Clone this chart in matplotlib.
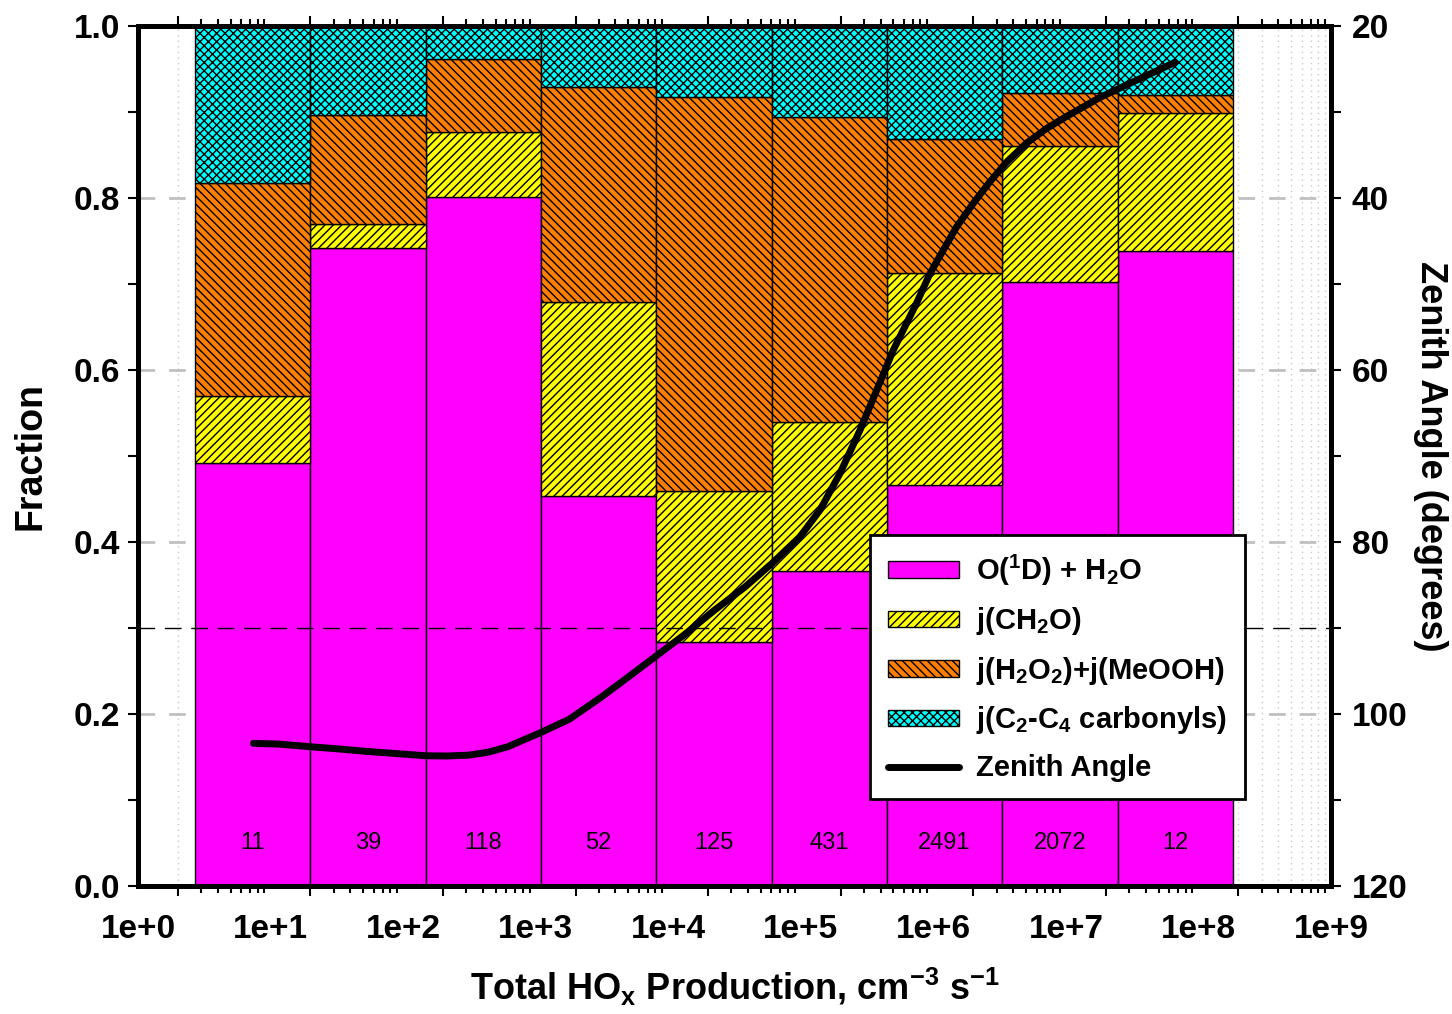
import numpy as np
import matplotlib
matplotlib.use("Agg")
import matplotlib.pyplot as plt
from matplotlib.ticker import FixedLocator, NullFormatter, FixedFormatter, MultipleLocator
from matplotlib.lines import Line2D
from matplotlib.patches import Patch

plt.rcParams['font.family'] = ['Liberation Sans', 'DejaVu Sans']
plt.rcParams['mathtext.default'] = 'regular'
plt.rcParams['hatch.linewidth'] = 1.0

# bin edges in log10(total HOx production)
bin_edges_log = [0.43, 1.30, 2.17, 3.04, 3.91, 4.78, 5.65, 6.52, 7.39, 8.26]
# number of points in each bin
counts = [11, 39, 118, 52, 125, 431, 2491, 2072, 12]

# fractional contribution of each source per bin
frac_o1d = [0.492, 0.742, 0.801, 0.453, 0.284, 0.366, 0.466, 0.702, 0.738]
frac_ch2o = [0.078, 0.028, 0.076, 0.226, 0.175, 0.174, 0.247, 0.158, 0.161]
frac_peroxides = [0.247, 0.127, 0.085, 0.250, 0.458, 0.354, 0.156, 0.062, 0.021]
frac_carbonyls = [0.183, 0.103, 0.038, 0.071, 0.083, 0.106, 0.131, 0.078, 0.080]

# mean solar zenith angle vs log10(total HOx production)
za_log = [0.871, 1.058, 1.298, 1.491, 1.722, 1.924, 2.170, 2.329, 2.502, 2.646,
          2.790, 3.036, 3.252, 3.483, 3.685, 3.908, 4.119, 4.350, 4.581, 4.783,
          4.994, 5.145, 5.296, 5.447, 5.573, 5.698, 5.874, 5.975, 6.075, 6.176,
          6.301, 6.427, 6.553, 6.704, 6.855, 7.006, 7.257, 7.508, 7.823]
za_deg = [103.41, 103.49, 103.80, 104.03, 104.34, 104.57, 104.85, 104.88, 104.77, 104.42,
          103.80, 102.17, 100.62, 98.17, 95.85, 93.26, 90.81, 87.91, 85.20, 82.48,
          79.38, 76.28, 72.01, 66.98, 62.33, 57.67, 52.20, 48.76, 46.05, 43.34,
          40.62, 38.10, 35.81, 33.60, 31.90, 30.50, 28.30, 26.48, 24.22]

series = [
    (frac_o1d, '#FF00FF', None, r'O($^1$D) + H$_2$O'),
    (frac_ch2o, '#FFFF00', '////', r'j(CH$_2$O)'),
    (frac_peroxides, '#FF7F00', '\\\\\\\\', r'j(H$_2$O$_2$)+j(MeOOH)'),
    (frac_carbonyls, '#00FFFF', 'xxxx', r'j(C$_2$-C$_4$ carbonyls)'),
]

fig = plt.figure(figsize=(14.52, 10.14), dpi=100)
ax = fig.add_axes([0.0950, 0.1262, 0.8217, 0.8481])

left = 10 ** np.array(bin_edges_log[:-1])
right = 10 ** np.array(bin_edges_log[1:])
widths = right - left
centers = 10 ** ((np.array(bin_edges_log[:-1]) + np.array(bin_edges_log[1:])) / 2)

bottom = np.zeros(len(counts))
for vals, color, hatch, label in series:
    ax.bar(left, vals, width=widths, bottom=bottom, align='edge', color=color,
           edgecolor='black', linewidth=1.0, hatch=hatch, zorder=2)
    bottom += np.array(vals)

for c, n in zip(centers, counts):
    ax.text(c, 0.05, str(n), ha='center', va='center', fontsize=17, zorder=4)

# horizon (90 degrees) reference
ax.axhline(0.3, color='black', lw=1.0, ls=(0, (12, 7)), zorder=3)

ax.set_xscale('log')
ax.set_xlim(1, 1e9)
ax.set_ylim(0, 1)

ax.xaxis.set_major_locator(FixedLocator([2 * 10.0 ** n for n in range(9)]))
ax.xaxis.set_minor_locator(FixedLocator([k * 10.0 ** n for n in range(9) for k in range(3, 10)]))
ax.xaxis.set_major_formatter(NullFormatter())
ax.xaxis.set_minor_formatter(NullFormatter())
ax.tick_params(axis='x', which='major', direction='out', length=7, width=1.5, top=True, bottom=True)
ax.tick_params(axis='x', which='minor', direction='out', length=5, width=1.5, top=True, bottom=True)

ax.yaxis.set_major_locator(MultipleLocator(0.2))
ax.yaxis.set_minor_locator(MultipleLocator(0.1))
ax.yaxis.set_major_formatter(matplotlib.ticker.FormatStrFormatter('%.1f'))
ax.tick_params(axis='y', which='both', direction='out', length=7, width=1.5, right=False)
ax.tick_params(axis='y', which='major', labelsize=24, pad=6)
for lab in ax.get_yticklabels():
    lab.set_fontweight('bold')

ax.set_axisbelow(True)
ax.grid(axis='y', which='major', color='#C0C0C0', lw=2, ls=(0, (6, 5)))
ax.grid(axis='x', which='both', color='#C8C8C8', lw=1, ls=(0, (1, 3)))

for sp in ax.spines.values():
    sp.set_linewidth(3.5)

# decade labels sit on their own axis so they carry no tick marks
decades = [10.0 ** n for n in range(10)]
sec = ax.secondary_xaxis('bottom')
sec.xaxis.set_major_locator(FixedLocator(decades))
sec.xaxis.set_major_formatter(FixedFormatter(['1e+%d' % n for n in range(10)]))
sec.xaxis.set_minor_locator(FixedLocator([]))
sec.tick_params(axis='x', which='major', length=0, pad=20, labelsize=24)
sec.spines['bottom'].set_visible(False)
for lab in sec.get_xticklabels():
    lab.set_fontweight('bold')
sec.set_xlabel(r'Total HO$_x$ Production, cm$^{-3}$ s$^{-1}$', fontsize=26,
               fontweight='bold', labelpad=15)

ax.set_ylabel('Fraction', fontsize=27, fontweight='bold', labelpad=18)

ax2 = ax.twinx()
ax2.plot(10 ** np.array(za_log), za_deg, color='black', lw=5, solid_capstyle='round',
         solid_joinstyle='round', zorder=5)
ax2.set_ylim(120, 20)
ax2.yaxis.set_major_locator(MultipleLocator(20))
ax2.yaxis.set_minor_locator(MultipleLocator(10))
ax2.tick_params(axis='y', which='both', direction='out', length=7, width=1.5)
ax2.tick_params(axis='y', which='major', labelsize=24, pad=8)
for lab in ax2.get_yticklabels():
    lab.set_fontweight('bold')
for sp in ax2.spines.values():
    sp.set_linewidth(3.5)
ax2.set_ylabel('Zenith Angle (degrees)', fontsize=26, fontweight='bold', rotation=270,
               labelpad=29)

handles = [Patch(facecolor=c, edgecolor='black', hatch=h, linewidth=1.0, label=l)
           for _, c, h, l in series]
handles.append(Line2D([], [], color='black', lw=5, solid_capstyle='round', label='Zenith Angle'))
leg = ax2.legend(handles=handles, loc='upper left', bbox_to_anchor=(0.6136, 0.408),
                 borderaxespad=0, fancybox=False, framealpha=1, edgecolor='black',
                 prop={'size': 21, 'weight': 'bold'}, handlelength=2.45, handleheight=0.5,
                 labelspacing=0.6, borderpad=0.6, handletextpad=0.6)
leg.get_frame().set_linewidth(2)
leg.set_zorder(10)

fig.savefig('out.png', dpi=100, facecolor='white')
